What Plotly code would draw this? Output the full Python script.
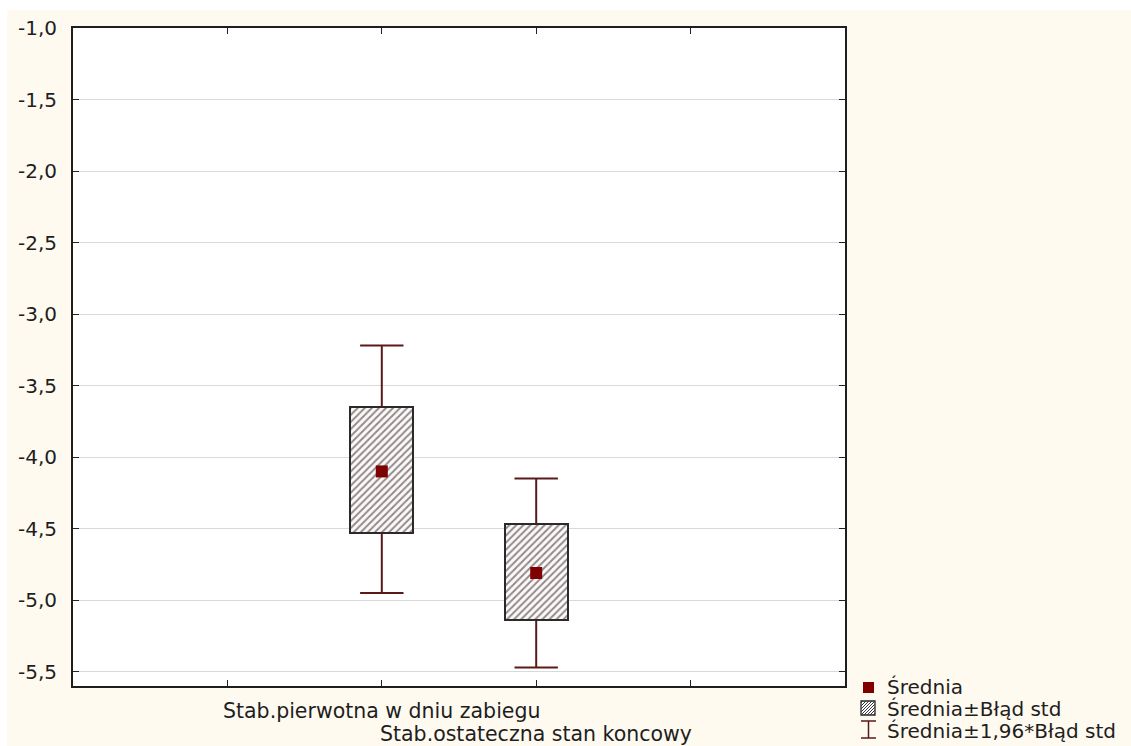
import plotly.graph_objects as go

# Variables compared (one box per variable)
categories = ["Stab.pierwotna w dniu zabiegu", "Stab.ostateczna stan koncowy"]
positions = [2, 3]

# Mean, mean ± standard error, mean ± 1.96 * standard error
means = [-4.10, -4.81]
se_low = [-4.53, -5.14]
se_high = [-3.65, -4.47]
ci_low = [-4.95, -5.47]
ci_high = [-3.22, -4.15]

y_ticks = [-1.0, -1.5, -2.0, -2.5, -3.0, -3.5, -4.0, -4.5, -5.0, -5.5]
y_tick_text = ["-1,0", "-1,5", "-2,0", "-2,5", "-3,0", "-3,5", "-4,0",
               "-4,5", "-5,0", "-5,5"]

legend_labels = ["Średnia", "Średnia±Błąd std", "Średnia±1,96*Błąd std"]

W, H = 1131, 746
ML, MR, MT, MB = 73, 286, 28, 60
PW, PH = W - ML - MR, H - MT - MB

FONT = "DejaVu Sans"
TXT = "#1e1e1e"
MEAN_C = "#7f0000"
WHISK_C = "#5a1a1a"
BOX_EDGE = "#2a2a2a"


def px(x):
    return (x - ML) / PW


def py(y):
    return (H - MB - y) / PH


fig = go.Figure()

# Boxes: mean ± standard error, hatched
fig.add_trace(go.Bar(
    x=positions,
    base=se_low,
    y=[h - l for h, l in zip(se_high, se_low)],
    width=0.41,
    marker=dict(
        color="white",
        line=dict(color=BOX_EDGE, width=2),
        pattern=dict(shape="/", fgcolor="#1f1f1f", bgcolor="#fff8f8",
                     size=5, solidity=0.4),
    ),
    hoverinfo="skip",
    showlegend=False,
))

# Whiskers: from box edges out to mean ± 1.96 * standard error
wx, wy = [], []
for p, lo, hi, cl, ch in zip(positions, se_low, se_high, ci_low, ci_high):
    wx += [p, p, None, p, p, None]
    wy += [hi, ch, None, lo, cl, None]
fig.add_trace(go.Scatter(
    x=wx, y=wy, mode="lines",
    line=dict(color=WHISK_C, width=2),
    hoverinfo="skip", showlegend=False,
))

# Whisker caps
fig.add_trace(go.Scatter(
    x=positions + positions,
    y=ci_low + ci_high,
    mode="markers",
    marker=dict(symbol="line-ew", size=31,
                line=dict(color=WHISK_C, width=2)),
    hoverinfo="skip", showlegend=False,
))

# Means
fig.add_trace(go.Scatter(
    x=positions, y=means, mode="markers",
    marker=dict(symbol="square", size=12, color=MEAN_C),
    showlegend=False,
))

shapes = []
annotations = []

# White margin strips at the top and the left of the page
shapes.append(dict(type="rect", xref="paper", yref="paper", layer="below",
                   x0=px(0), x1=px(W), y0=py(10), y1=py(0),
                   fillcolor="white", line=dict(width=0)))
shapes.append(dict(type="rect", xref="paper", yref="paper", layer="below",
                   x0=px(0), x1=px(7), y0=py(H), y1=py(0),
                   fillcolor="white", line=dict(width=0)))

# Staggered category labels under the axis
label_y = [711, 734]
for p, lab, ly in zip(positions, categories, label_y):
    annotations.append(dict(
        x=p, xref="x", y=py(ly), yref="paper", text=lab, showarrow=False,
        xanchor="center", yanchor="middle",
        font=dict(family=FONT, size=20.5, color=TXT),
    ))

# Legend: icons
# mean marker
shapes.append(dict(type="rect", xref="paper", yref="paper",
                   x0=px(863), x1=px(874), y0=py(693), y1=py(682),
                   fillcolor=MEAN_C, line=dict(width=0)))
# hatched box
hx0, hx1, hy0, hy1 = 861, 875, 701, 715
shapes.append(dict(type="rect", xref="paper", yref="paper",
                   x0=px(hx0), x1=px(hx1), y0=py(hy1), y1=py(hy0),
                   fillcolor="white", line=dict(color=BOX_EDGE, width=1.3)))
for k in range(-12, 15, 3):
    # diagonal hatch line clipped to the icon square
    xa, ya = hx0 + k, hy1
    xb, yb = hx0 + k + (hy1 - hy0), hy0
    if xa < hx0:
        ya -= hx0 - xa
        xa = hx0
    if xb > hx1:
        yb += xb - hx1
        xb = hx1
    if xa < xb:
        shapes.append(dict(type="line", xref="paper", yref="paper",
                           x0=px(xa), y0=py(ya), x1=px(xb), y1=py(yb),
                           line=dict(color="#3a3a3a", width=1)))
# I-beam whisker symbol
ix0, ix1, iy0, iy1 = 861, 876, 721, 738
ixc = (ix0 + ix1) / 2
for (a, b, c, d) in [(ix0, iy0, ix1, iy0), (ixc, iy0, ixc, iy1),
                     (ix0, iy1, ix1, iy1)]:
    shapes.append(dict(type="line", xref="paper", yref="paper",
                       x0=px(a), y0=py(b), x1=px(c), y1=py(d),
                       line=dict(color=WHISK_C, width=1.5)))

# Legend: text
legend_y = [687, 709, 731]
for lab, ly in zip(legend_labels, legend_y):
    annotations.append(dict(
        x=px(885), xref="paper", y=py(ly), yref="paper", text=lab,
        showarrow=False, xanchor="left", yanchor="middle",
        font=dict(family=FONT, size=20, color=TXT),
    ))

fig.update_layout(
    width=W, height=H,
    margin=dict(l=ML, r=MR, t=MT, b=MB, pad=0),
    paper_bgcolor="#fffaf0",
    plot_bgcolor="white",
    showlegend=False,
    font=dict(family=FONT, size=20, color=TXT),
    shapes=shapes,
    annotations=annotations,
    bargap=0,
)

fig.update_xaxes(
    range=[0, 5], tickvals=[1, 2, 3, 4], showticklabels=False,
    ticks="inside", ticklen=6, tickcolor="#222222", tickwidth=1.2,
    showline=True, linecolor="#1e1e1e", linewidth=1.8, mirror="ticks",
    showgrid=False, zeroline=False, fixedrange=True,
)
fig.update_yaxes(
    range=[-5.6, -1.0], tickvals=y_ticks, ticktext=y_tick_text,
    ticks="inside", ticklen=6, tickcolor="#222222", tickwidth=1.2,
    showline=True, linecolor="#1e1e1e", linewidth=1.8, mirror="ticks",
    showgrid=True, gridcolor="#d9d9d9", gridwidth=1,
    zeroline=False, ticklabelstandoff=10,
    tickfont=dict(family=FONT, size=20, color=TXT), fixedrange=True,
)

fig.write_html("out.html")
